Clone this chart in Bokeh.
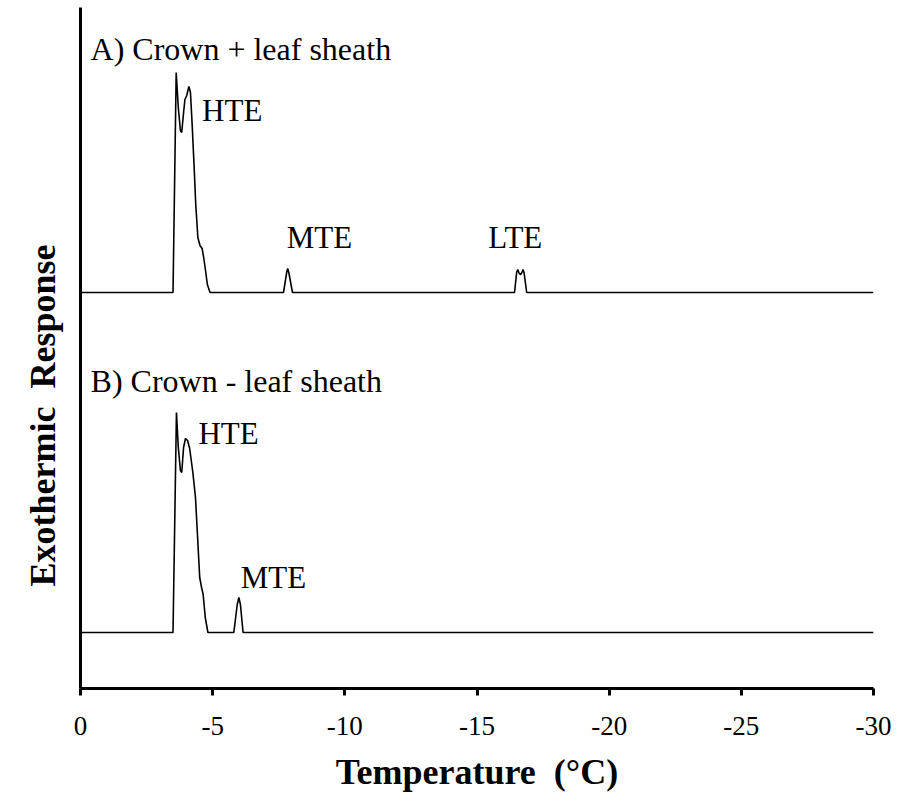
from bokeh.plotting import figure
from bokeh.models import Range1d, FixedTicker, Label, Title, ColumnDataSource
from bokeh.embed import file_html
from bokeh.resources import INLINE

# ---- data -------------------------------------------------------------
tick_values = [0, -5, -10, -15, -20, -25, -30]
tick_labels = ["0", "-5", "-10", "-15", "-20", "-25", "-30"]

# Trace A: Crown + leaf sheath (temperature, exothermic response)
temp_a = [0, -3.50, -3.62, -3.70, -3.78, -3.83, -3.90, -3.95, -4.02, -4.10,
          -4.16, -4.22, -4.30, -4.36, -4.44, -4.52, -4.60, -4.66, -4.73, -4.80,
          -4.90, -7.68, -7.80, -7.84, -7.88, -8.02, -16.42, -16.50, -16.54,
          -16.60, -16.65, -16.70, -16.74, -16.78, -16.88, -30]
resp_a = [0, 0, 220, 185, 162, 160, 180, 193, 197, 206,
          200, 170, 125, 88, 55, 47, 44, 35, 22, 8,
          0, 0, 20, 24, 20, 0, 0, 20, 23,
          19, 18, 20, 23, 20, 0, 0]

# Trace B: Crown - leaf sheath
temp_b = [0, -3.50, -3.63, -3.70, -3.78, -3.83, -3.90, -3.97, -4.05, -4.13,
          -4.25, -4.35, -4.43, -4.51, -4.58, -4.64, -4.72, -4.82, -5.80, -5.93,
          -5.99, -6.05, -6.15, -30]
resp_b = [0, 0, 220, 185, 162, 160, 185, 194, 192, 184,
          160, 135, 95, 55, 45, 38, 15, 0, 0, 28,
          35, 28, 0, 0]

offset_a = 396   # vertical offset of trace A
offset_b = 56    # vertical offset of trace B

panel_labels = ["A) Crown + leaf sheath", "B) Crown - leaf sheath"]
peak_labels = ["HTE", "MTE", "LTE", "HTE", "MTE"]
x_title = "Temperature\u00a0\u00a0(°C)"
y_title = "Exothermic\u00a0\u00a0Response"

# ---- figure -----------------------------------------------------------
W, H = 899, 795
p = figure(width=W, height=H, output_backend="svg", toolbar_location=None,
           x_range=Range1d(0, -30), y_range=Range1d(0, 681),
           min_border_left=80, min_border_right=26, min_border_top=7,
           min_border_bottom=107)
p.outline_line_color = None
p.xgrid.visible = False
p.ygrid.visible = False
p.background_fill_color = "white"
p.border_fill_color = "white"

src_a = ColumnDataSource(dict(x=temp_a, y=[v + offset_a for v in resp_a]))
src_b = ColumnDataSource(dict(x=temp_b, y=[v + offset_b for v in resp_b]))
p.line("x", "y", source=src_a, line_color="black", line_width=1.6)
p.line("x", "y", source=src_b, line_color="black", line_width=1.6)

FONT = "Liberation Serif"

# x axis
xa = p.xaxis[0]
xa.ticker = FixedTicker(ticks=tick_values)
xa.major_label_overrides = {v: s for v, s in zip(tick_values, tick_labels)}
xa.axis_line_width = 3
xa.axis_line_color = "black"
xa.major_tick_line_width = 3
xa.major_tick_line_color = "black"
xa.major_tick_out = 7
xa.major_tick_in = 0
xa.minor_tick_line_color = None
xa.major_label_text_font = FONT
xa.major_label_text_font_size = "27px"
xa.major_label_text_color = "black"
xa.major_label_standoff = 21
xa.axis_label = x_title
xa.axis_label_text_font = FONT
xa.axis_label_text_font_style = "bold"
xa.axis_label_text_font_size = "36px"
xa.axis_label_text_color = "black"
xa.axis_label_standoff = 14

# y axis
ya = p.yaxis[0]
ya.ticker = FixedTicker(ticks=[])
ya.axis_line_width = 3
ya.axis_line_color = "black"
ya.major_tick_out = 0
ya.major_tick_in = 0
ya.minor_tick_line_color = None
ya.major_label_text_font_size = "0px"

# y-axis title placed as a side title so it can sit below the frame centre
p.add_layout(Title(text=y_title, align="left", offset=102, standoff=35,
                   text_font=FONT, text_font_style="bold",
                   text_font_size="36px", text_color="black"), "left")

# annotations
def add_label(x, y, text, size="31px", align="left"):
    p.add_layout(Label(x=x, y=y, text=text, text_font=FONT,
                       text_font_size=size, text_color="black",
                       text_align=align, text_baseline="middle"))

add_label(-0.38, 640, panel_labels[0], size="32px")
add_label(-4.6, 578, peak_labels[0])
add_label(-9.04, 451, peak_labels[1], align="center")
add_label(-16.45, 451, peak_labels[2], align="center")
add_label(-0.38, 308, panel_labels[1], size="32px")
add_label(-4.46, 255, peak_labels[3])
add_label(-7.3, 111, peak_labels[4], align="center")

open("out.html", "w").write(file_html(p, INLINE))
